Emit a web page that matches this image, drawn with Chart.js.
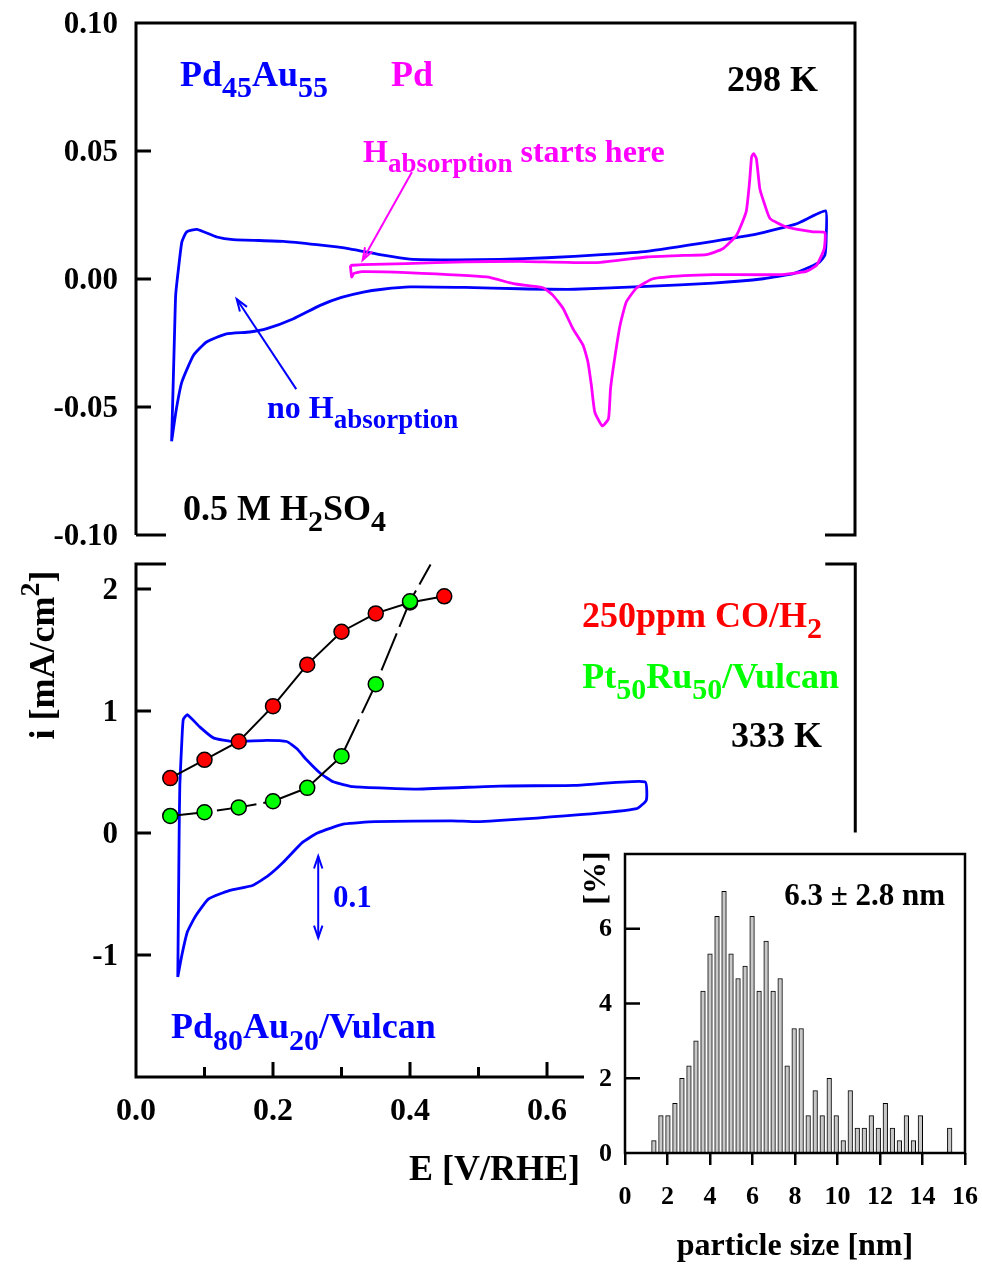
<!DOCTYPE html>
<html><head><meta charset="utf-8">
<script src="https://cdn.jsdelivr.net/npm/chart.js@4.4.1/dist/chart.umd.min.js"></script>
<style>
html,body{margin:0;padding:0;background:#fff;}
#wrap{position:relative;width:982px;height:1264px;overflow:hidden;background:#fff;}
canvas{position:absolute;}
</style></head><body>
<div id="wrap">
<canvas id="cTop" width="982" height="560" style="left:0;top:0;width:982px;height:560px"></canvas>
<canvas id="cBot" width="982" height="724" style="left:0;top:540px;width:982px;height:724px"></canvas>
<canvas id="cHist" width="422" height="428" style="left:560px;top:836px;width:422px;height:428px"></canvas>
</div>
<script>
// ---------- DATA ----------
// Top panel: Pd45Au55 CV (blue), 298 K
const topBlueE = [0.052,0.054,0.057,0.058,0.062,0.067,0.074,0.089,0.118,0.142,0.215,0.264,0.312,0.361,0.400,0.470,0.531,0.600,0.680,0.746,0.843,0.906,0.965,1.007,1.008,1.006,0.998,0.984,0.960,0.916,0.843,0.746,0.640,0.560,0.480,0.400,0.360,0.332,0.300,0.269,0.230,0.191,0.166,0.132,0.103,0.084,0.067,0.059,0.052];
const topBlueI = [-0.0634,-0.044,-0.014,-0.006,0.004,0.0145,0.0184,0.0194,0.0164,0.0154,0.0147,0.0134,0.0118,0.0093,0.0078,0.0075,0.0077,0.0083,0.0095,0.0108,0.0147,0.0175,0.0216,0.0266,0.017,0.0093,0.0066,0.0047,0.0021,0.0001,-0.0016,-0.0029,-0.0040,-0.0038,-0.0033,-0.0031,-0.0040,-0.0051,-0.0072,-0.0103,-0.0155,-0.0194,-0.0207,-0.0214,-0.0246,-0.0298,-0.0402,-0.0507,-0.0634];
// Top panel: Pd CV (magenta)
const topPdE = [0.313,0.330,0.395,0.480,0.560,0.673,0.746,0.800,0.833,0.857,0.877,0.891,0.896,0.899,0.902,0.906,0.911,0.917,0.926,0.950,0.989,1.006,1.005,0.994,0.979,0.940,0.843,0.800,0.755,0.731,0.716,0.707,0.699,0.693,0.690,0.681,0.670,0.665,0.660,0.653,0.638,0.624,0.609,0.595,0.575,0.551,0.512,0.395,0.330,0.318,0.315,0.313];
const topPdI = [0.0053,0.0056,0.0060,0.0067,0.0069,0.0064,0.0086,0.0092,0.0095,0.0118,0.0171,0.0262,0.0379,0.0477,0.0490,0.0470,0.0353,0.0300,0.0236,0.0203,0.0184,0.0181,0.0118,0.0054,0.0030,0.0017,0.0017,0.0013,0.0001,-0.0035,-0.0090,-0.0180,-0.0311,-0.0428,-0.0546,-0.0574,-0.0520,-0.0415,-0.0324,-0.0259,-0.0194,-0.0116,-0.0064,-0.0035,-0.0027,-0.0018,0.0008,0.0025,0.0029,0.0022,0.0008,0.0053];
const topYTicks = [-0.10,-0.05,0.00,0.05,0.10];

// Bottom panel: Pd80Au20/Vulcan CV (blue)
const botBlueE = [0.061,0.062,0.063,0.064,0.067,0.069,0.075,0.093,0.113,0.142,0.191,0.220,0.235,0.249,0.269,0.288,0.317,0.410,0.531,0.640,0.743,0.745,0.731,0.648,0.502,0.461,0.349,0.304,0.265,0.243,0.215,0.193,0.170,0.137,0.106,0.087,0.075,0.067,0.061];
const botBlueI = [-1.18,-0.60,0.00,0.40,0.76,0.93,0.97,0.87,0.78,0.75,0.76,0.75,0.69,0.60,0.49,0.42,0.38,0.36,0.385,0.39,0.42,0.27,0.20,0.15,0.093,0.10,0.093,0.074,0.00,-0.077,-0.24,-0.35,-0.43,-0.47,-0.54,-0.68,-0.81,-1.00,-1.18];
// 250ppm CO/H2 polarisation points
const coPdAuE = [0.05,0.10,0.15,0.20,0.25,0.30,0.35,0.40,0.45];
const coPdAuI = [0.45,0.60,0.75,1.04,1.38,1.65,1.80,1.89,1.94];
const coPtRuE = [0.05,0.10,0.15,0.20,0.25,0.30,0.35,0.40,0.43];
const coPtRuI = [0.14,0.17,0.21,0.26,0.37,0.63,1.22,1.90,2.20];
const botYTicks = [-2,-1,0,1,2];
const botXTicks = [0.0,0.2,0.4,0.6];
const botXMinor = [0.1,0.3,0.5];

// Inset: particle size histogram
const histX = [1.36,1.69,2.02,2.35,2.68,3.01,3.34,3.67,4.00,4.33,4.66,4.99,5.32,5.65,5.98,6.31,6.64,6.97,7.30,7.63,7.96,8.29,8.62,8.95,9.28,9.61,9.94,10.27,10.60,10.93,11.26,11.59,11.92,12.25,12.58,12.91,13.24,13.57,13.90,15.28];
const histY = [0.33,1.0,1.0,1.33,2.0,2.33,3.0,4.33,5.33,6.33,7.0,5.33,4.67,5.0,6.33,4.33,5.67,4.33,4.67,2.33,3.33,3.33,1.0,1.67,1.0,2.0,1.0,0.33,1.67,0.67,0.67,1.0,0.67,1.33,0.67,0.33,1.0,0.33,1.0,0.67];
const histXTicks = [0,2,4,6,8,10,12,14,16];
const histYTicks = [0,2,4,6];

// ---------- HELPERS ----------
const FAM = '"Liberation Serif", "Times New Roman", serif';
const F = s => `bold ${s}px ${FAM}`;
const pts = (X, Y) => X.map((v, k) => ({x: v, y: Y[k]}));
const BLUE = '#0000ff', MAG = '#ff00ff', RED = '#ff0000', GRN = '#00ff00';

function rich(ctx, parts, x, y, align, color) {
  ctx.save();
  ctx.fillStyle = color; ctx.textBaseline = 'alphabetic'; ctx.textAlign = 'left';
  let w = 0; const ws = [];
  for (const p of parts) { ctx.font = F(p[1]); const m = ctx.measureText(p[0]).width; ws.push(m); w += m; }
  let cx = align === 'right' ? x - w : align === 'center' ? x - w / 2 : x;
  parts.forEach((p, k) => { ctx.font = F(p[1]); ctx.fillText(p[0], cx, y + (p[2] || 0)); cx += ws[k]; });
  ctx.restore();
}
function rotRich(ctx, parts, x, y, color) {
  ctx.save(); ctx.translate(x, y); ctx.rotate(-Math.PI / 2);
  rich(ctx, parts, 0, 0, 'center', color);
  ctx.restore();
}
function head(ctx, x1, y1, x2, y2, len, ang) {
  const a = Math.atan2(y2 - y1, x2 - x1);
  ctx.beginPath();
  ctx.moveTo(x2 - len * Math.cos(a - ang), y2 - len * Math.sin(a - ang));
  ctx.lineTo(x2, y2);
  ctx.lineTo(x2 - len * Math.cos(a + ang), y2 - len * Math.sin(a + ang));
  ctx.stroke();
}
function arrow(ctx, x1, y1, x2, y2, color, both) {
  ctx.save(); ctx.strokeStyle = color; ctx.lineWidth = 2;
  ctx.beginPath(); ctx.moveTo(x1, y1); ctx.lineTo(x2, y2); ctx.stroke();
  head(ctx, x1, y1, x2, y2, 13, 0.33);
  if (both) head(ctx, x2, y2, x1, y1, 13, 0.33);
  ctx.restore();
}
const fixW = w => s => { s.width = w; s.paddingTop = 0; s.paddingBottom = 0; };
const fixH = h => s => { s.height = h; s.paddingLeft = 0; s.paddingRight = 0; };
const setTicks = arr => s => { s.ticks = arr.map(v => ({value: v})); };
const tickFont = size => ({family: FAM, size: size, weight: 'bold'});
const noGrid = {display: false, drawTicks: false};
const common = {
  responsive: false, animation: false, devicePixelRatio: 1,
  plugins: {legend: {display: false}, tooltip: {enabled: false}},
  events: []
};
const cvLine = (X, Y, color, order) => ({
  data: pts(X, Y), showLine: true, borderColor: color, borderWidth: 2.8,
  pointRadius: 0, tension: 0.15, order: order, clip: false
});

// ---------- TOP PANEL ----------
new Chart(document.getElementById('cTop'), {
  type: 'scatter',
  data: {datasets: [cvLine(topPdE, topPdI, MAG, 1), cvLine(topBlueE, topBlueI, BLUE, 2)]},
  options: Object.assign({}, common, {
    layout: {padding: {left: 0, top: 23, right: 127, bottom: 25}, autoPadding: false},
    scales: {
      x: {type: 'linear', min: 0, max: 1.05, display: false},
      y: {type: 'linear', min: -0.10, max: 0.10, afterFit: fixW(136), afterBuildTicks: setTicks(topYTicks),
          grid: noGrid, border: {display: false},
          ticks: {font: tickFont(31), color: '#000', padding: 18, labelOffset: 2, callback: v => v.toFixed(2)}}
    }
  }),
  plugins: [{
    id: 'deco1',
    afterDraw(chart) {
      const {ctx, chartArea: a, scales: {x, y}} = chart;
      ctx.save(); ctx.strokeStyle = '#000'; ctx.lineWidth = 3; ctx.lineJoin = 'miter';
      ctx.beginPath();
      ctx.moveTo(a.left, a.bottom); ctx.lineTo(a.left, a.top); ctx.lineTo(a.right, a.top); ctx.lineTo(a.right, a.bottom); ctx.lineTo(a.right - 30, a.bottom);
      ctx.moveTo(a.left, a.bottom); ctx.lineTo(a.left + 30, a.bottom);
      for (const v of [0.05, 0, -0.05]) { const p = y.getPixelForValue(v); ctx.moveTo(a.left, p); ctx.lineTo(a.left + 15, p); }
      ctx.stroke(); ctx.restore();
      rich(ctx, [['Pd', 36], ['45', 30, 11], ['Au', 36], ['55', 30, 11]], 180, 86, 'left', BLUE);
      rich(ctx, [['Pd', 36]], 391, 86, 'left', MAG);
      rich(ctx, [['298 K', 36]], 818, 91, 'right', '#000');
      rich(ctx, [['H', 32], ['absorption', 27, 10], [' starts here', 32]], 363, 162, 'left', MAG);
      rich(ctx, [['no H', 32], ['absorption', 27, 10]], 267, 418, 'left', BLUE);
      rich(ctx, [['0.5 M H', 36], ['2', 30, 11], ['SO', 36], ['4', 30, 11]], 183, 520, 'left', '#000');
      arrow(ctx, x.getPixelForValue(0.403), y.getPixelForValue(0.0418), x.getPixelForValue(0.331), y.getPixelForValue(0.0074), MAG, false);
      arrow(ctx, x.getPixelForValue(0.234), y.getPixelForValue(-0.043), x.getPixelForValue(0.147), y.getPixelForValue(-0.0078), BLUE, false);
    }
  }]
});

// ---------- BOTTOM PANEL ----------
new Chart(document.getElementById('cBot'), {
  type: 'scatter',
  data: {datasets: [
    {data: pts(coPtRuE, coPtRuI), showLine: true, borderColor: '#000', borderWidth: 2, borderDash: [40, 7],
     pointRadius: coPtRuE.map((v, k) => k === coPtRuE.length - 1 ? 0 : 7.5), pointBackgroundColor: GRN, pointBorderColor: '#000', pointBorderWidth: 1.5,
     tension: 0, order: 1, clip: false},
    {data: pts(coPdAuE, coPdAuI), showLine: true, borderColor: '#000', borderWidth: 2,
     pointRadius: 7.5, pointBackgroundColor: RED, pointBorderColor: '#000', pointBorderWidth: 1.5,
     tension: 0, order: 2, clip: false},
    cvLine(botBlueE, botBlueI, BLUE, 3)
  ]},
  options: Object.assign({}, common, {
    layout: {padding: {left: 0, top: 24, right: 398, bottom: 0}, autoPadding: false},
    scales: {
      x: {type: 'linear', min: 0, max: 0.654, afterFit: fixH(187), afterBuildTicks: setTicks(botXTicks),
          grid: noGrid, border: {display: false},
          ticks: {font: tickFont(32), color: '#000', padding: 16, maxRotation: 0, autoSkip: false, callback: v => v.toFixed(1)}},
      y: {type: 'linear', min: -2, max: 2.205, afterFit: fixW(136), afterBuildTicks: setTicks(botYTicks),
          grid: noGrid, border: {display: false},
          ticks: {font: tickFont(31), color: '#000', padding: 18, labelOffset: 2, callback: v => v === -2 ? '' : String(v)}}
    }
  }),
  plugins: [{
    id: 'deco2',
    afterDraw(chart) {
      const {ctx, chartArea: a, scales: {x, y}} = chart;
      const R = x.getPixelForValue(1.05);
      ctx.save(); ctx.strokeStyle = '#000'; ctx.lineWidth = 3; ctx.lineJoin = 'miter';
      ctx.beginPath();
      ctx.moveTo(a.left + 30, a.top); ctx.lineTo(a.left, a.top); ctx.lineTo(a.left, a.bottom); ctx.lineTo(a.right, a.bottom);
      ctx.moveTo(R - 30, a.top); ctx.lineTo(R, a.top); ctx.lineTo(R, y.getPixelForValue(0.005));
      for (const v of [2, 1, 0, -1]) { const p = y.getPixelForValue(v); ctx.moveTo(a.left, p); ctx.lineTo(a.left + 15, p); }
      for (const v of botXTicks) { if (v === 0) continue; const p = x.getPixelForValue(v); ctx.moveTo(p, a.bottom); ctx.lineTo(p, a.bottom - 15); }
      for (const v of botXMinor) { const p = x.getPixelForValue(v); ctx.moveTo(p, a.bottom); ctx.lineTo(p, a.bottom - 10); }
      ctx.stroke(); ctx.restore();
      rich(ctx, [['250ppm CO/H', 36], ['2', 30, 11]], 822, 87, 'right', RED);
      rich(ctx, [['Pt', 36], ['50', 30, 11], ['Ru', 36], ['50', 30, 11], ['/Vulcan', 36]], 839, 148, 'right', GRN);
      rich(ctx, [['333 K', 36]], 822, 207, 'right', '#000');
      rich(ctx, [['Pd', 36], ['80', 30, 12], ['Au', 36], ['20', 30, 12], ['/Vulcan', 36]], 171, 498, 'left', BLUE);
      rich(ctx, [['0.1', 31]], 333, 367, 'left', BLUE);
      rich(ctx, [['E [V/RHE]', 36]], 580, 640, 'right', '#000');
      rotRich(ctx, [['i [mA/cm', 36], ['2', 28, -15], [']', 36]], 54, 115, '#000');
      const sx = x.getPixelForValue(0.266);
      arrow(ctx, sx, y.getPixelForValue(-0.19), sx, y.getPixelForValue(-0.86), BLUE, true);
    }
  }]
});

// ---------- INSET HISTOGRAM ----------
new Chart(document.getElementById('cHist'), {
  type: 'bar',
  data: {datasets: [{data: pts(histX, histY), backgroundColor: '#c8c8c8', borderColor: '#000', borderWidth: 1, barThickness: 4.6}]},
  options: Object.assign({}, common, {
    layout: {padding: {left: 0, top: 18, right: 17, bottom: 0}, autoPadding: false},
    scales: {
      x: {type: 'linear', min: 0, max: 16, offset: false, afterFit: fixH(111), afterBuildTicks: setTicks(histXTicks),
          grid: {display: true, drawOnChartArea: false, drawTicks: true, tickLength: 12, color: '#000', lineWidth: 2.5, offset: false},
          border: {display: false},
          ticks: {font: tickFont(26), color: '#000', padding: 17, maxRotation: 0, autoSkip: false}},
      y: {type: 'linear', min: 0, max: 8, afterFit: fixW(65), afterBuildTicks: setTicks(histYTicks),
          grid: noGrid, border: {display: false},
          ticks: {font: tickFont(26), color: '#000', padding: 13, labelOffset: 1}}
    }
  }),
  plugins: [{
    id: 'deco3',
    afterDraw(chart) {
      const {ctx, chartArea: a, scales: {y}} = chart;
      ctx.save(); ctx.strokeStyle = '#000'; ctx.lineWidth = 2.5;
      ctx.strokeRect(a.left, a.top, a.right - a.left, a.bottom - a.top);
      ctx.beginPath();
      for (const v of [2, 4, 6]) { const p = y.getPixelForValue(v); ctx.moveTo(a.left, p); ctx.lineTo(a.left + 15, p); }
      ctx.stroke(); ctx.restore();
      rich(ctx, [['6.3 \u00B1 2.8 nm', 31]], 385, 69, 'right', '#000');
      rotRich(ctx, [['[%]', 32]], 45, 42, '#000');
      rich(ctx, [['particle size [nm]', 32]], 235, 419, 'center', '#000');
    }
  }]
});
</script>
</body></html>
